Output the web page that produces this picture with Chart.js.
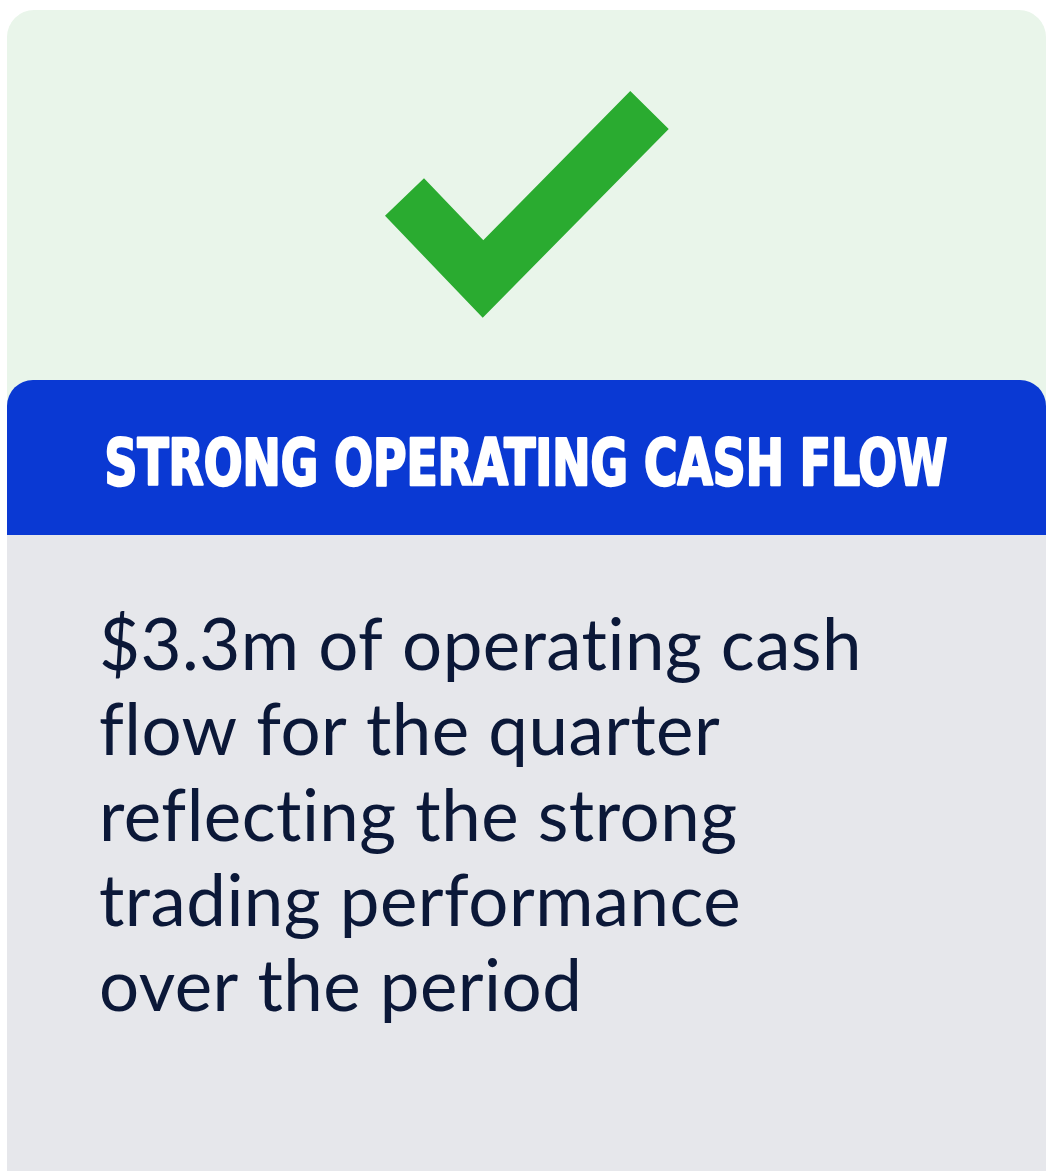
<!DOCTYPE html>
<html>
<head>
<meta charset="utf-8">
<style>
  html, body { margin: 0; padding: 0; background: #ffffff; }
  #wrap { position: relative; width: 1046px; height: 1171px; }
</style>
<script src="https://cdn.jsdelivr.net/npm/chart.js@4.4.1/dist/chart.umd.min.js"></script>
</head>
<body>
<div id="wrap"><canvas id="card-chart"></canvas></div>
<script>
// check mark path (page units, y grows downward)
const checkX = [404.5, 483, 649.5];
const checkY = [197, 279, 110];

const titleText = 'STRONG OPERATING CASH FLOW';
const bodyLines = [
  '$3.3m of operating cash',
  'flow for the quarter',
  'reflecting the strong',
  'trading performance',
  'over the period'
];

// draws the card panels and the text around the chart
const cardPlugin = {
  id: 'card',
  beforeDraw(chart) {
    const ctx = chart.ctx;
    ctx.save();
    // green top
    ctx.fillStyle = '#e9f5ea';
    ctx.beginPath();
    ctx.roundRect(7, 10, 1039, 420, [27, 27, 0, 0]);
    ctx.fill();
    // grey bottom
    ctx.fillStyle = '#e6e7eb';
    ctx.fillRect(7, 520, 1039, 651);
    // blue band
    ctx.fillStyle = '#0a39d3';
    ctx.beginPath();
    ctx.roundRect(7, 380, 1039, 155, [26, 26, 0, 0]);
    ctx.fill();
    ctx.restore();
  },
  afterDraw(chart) {
    const ctx = chart.ctx;
    ctx.save();
    // title
    ctx.fillStyle = '#ffffff';
    ctx.strokeStyle = '#ffffff';
    ctx.lineWidth = 2.5;
    ctx.lineJoin = 'round';
    ctx.font = "bold 64px 'Liberation Sans Narrow', 'DejaVu Sans Condensed', 'Roboto', sans-serif";
    ctx.textBaseline = 'alphabetic';
    ctx.textAlign = 'center';
    let w = ctx.measureText(titleText).width;
    ctx.translate(526, 485);
    ctx.scale(843 / w, 1);
    ctx.fillText(titleText, 0, 0);
    ctx.strokeText(titleText, 0, 0);
    ctx.restore();

    // body text
    ctx.save();
    ctx.fillStyle = '#0b1838';
    ctx.font = "72px 'Lato', 'Inter', sans-serif";
    ctx.letterSpacing = '0.5px'; // keeps the ti / fl ligatures apart
    ctx.textAlign = 'left';
    const sx = 763 / ctx.measureText(bodyLines[0]).width;
    bodyLines.forEach(function(line, i) {
      ctx.save();
      ctx.translate(99, 670 + i * 85.25);
      ctx.scale(sx, 1);
      ctx.fillText(line, 0, 0);
      ctx.restore();
    });
    ctx.restore();
  }
};

const checkData = {
  datasets: [{
    label: 'check',
    data: checkX.map((x, i) => ({ x: x, y: checkY[i] })),
    showLine: true,
    borderColor: '#2aab30',
    borderWidth: 54,
    borderJoinStyle: 'miter',
    borderCapStyle: 'butt',
    pointRadius: 0,
    fill: false
  }]
};

const checkConfig = {
  type: 'scatter',
  data: checkData,
  options: {
    responsive: true,
    maintainAspectRatio: false,
    animation: false,
    layout: { padding: 0 },
    plugins: {
      legend: { display: false },
      tooltip: { enabled: false }
    },
    scales: {
      x: { type: 'linear', min: 0, max: 1046, display: false },
      y: { type: 'linear', min: 0, max: 1171, reverse: true, display: false }
    }
  },
  plugins: [cardPlugin]
};

new Chart(
  document.getElementById('card-chart'),
  checkConfig
);
</script>
</body>
</html>
